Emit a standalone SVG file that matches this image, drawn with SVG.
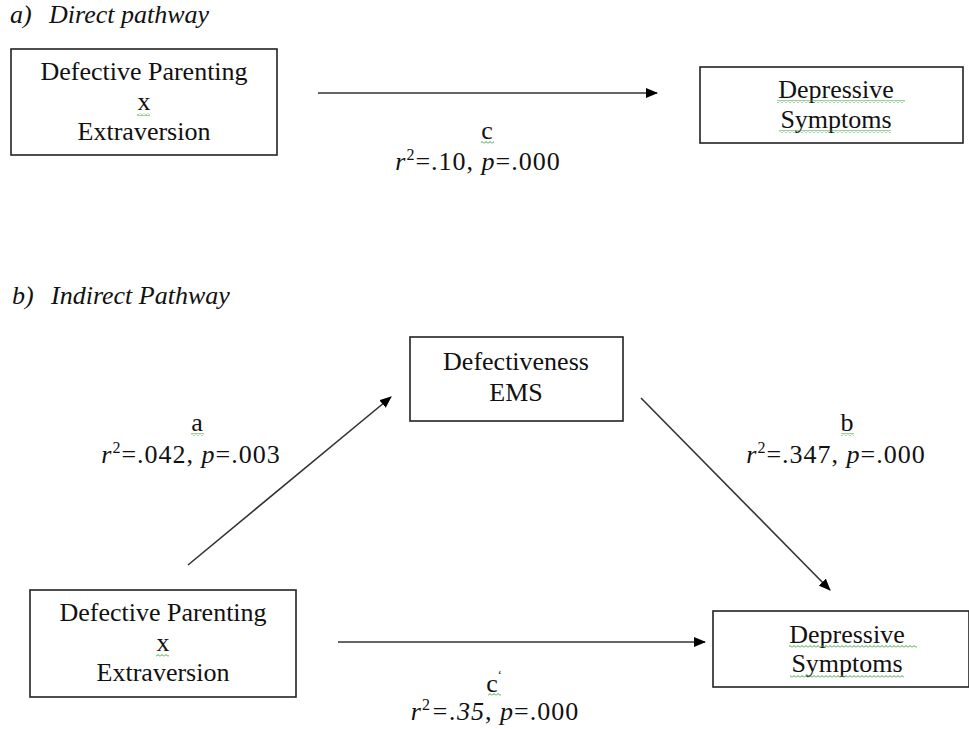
<svg xmlns="http://www.w3.org/2000/svg" width="969" height="729" viewBox="0 0 969 729">
<defs>
<marker id="ah" viewBox="0 0 12 10" refX="11" refY="5" markerWidth="12" markerHeight="10" markerUnits="userSpaceOnUse" orient="auto">
<path d="M0,0 L12,5 L0,10 Z" fill="#000"/>
</marker>
<pattern id="sq" width="4" height="3" patternUnits="userSpaceOnUse">
<path d="M0,2.5 L2,0.5 L4,2.5" stroke="#3fa03f" fill="none" stroke-width="1"/>
</pattern>
<style>
.box{fill:#fff;stroke:#222;stroke-width:1.6}
.t{font-family:"Liberation Serif","Times New Roman",serif;font-size:26px;fill:#111;text-anchor:middle}
.s{letter-spacing:1px}
.h{font-family:"Liberation Serif","Times New Roman",serif;font-size:26px;fill:#111;font-style:italic}
.ln{stroke:#333;stroke-width:1.6;fill:none;marker-end:url(#ah)}
.i{font-style:italic}
.sq{fill:url(#sq)}
</style>
</defs>
<rect width="969" height="729" fill="#fff"/>

<text class="h" x="10" y="23">a)</text>
<text class="h" x="49" y="23">Direct pathway</text>
<text class="h" x="12" y="304">b)</text>
<text class="h" x="51" y="304">Indirect Pathway</text>

<g id="connectors">
<line class="ln" x1="318" y1="93" x2="657" y2="93"/>
<line class="ln" x1="188" y1="565" x2="391" y2="397"/>
<line class="ln" x1="641" y1="398" x2="830" y2="590"/>
<line class="ln" x1="338" y1="642" x2="705" y2="642"/>
</g>

<g id="label-c">
<text class="t" x="487" y="139">c</text>
<rect class="sq" x="481" y="141" width="13" height="3"/>
<text class="t s" x="478" y="170"><tspan class="i">r</tspan><tspan font-size="16" dy="-10">2</tspan><tspan dy="10">=.10, </tspan><tspan class="i">p</tspan>=.000</text>
</g>

<g id="label-a">
<text class="t" x="197" y="431">a</text>
<rect class="sq" x="191" y="433" width="13" height="3"/>
<text class="t s" x="191" y="463"><tspan class="i">r</tspan><tspan font-size="16" dy="-10">2</tspan><tspan dy="10">=.042, </tspan><tspan class="i">p</tspan>=.003</text>
</g>

<g id="label-b">
<text class="t" x="847" y="431">b</text>
<rect class="sq" x="841" y="433" width="13" height="3"/>
<text class="t s" x="836" y="463"><tspan class="i">r</tspan><tspan font-size="16" dy="-10">2</tspan><tspan dy="10">=.347, </tspan><tspan class="i">p</tspan>=.000</text>
</g>

<g id="label-cprime">
<text class="t" x="494" y="692">c<tspan font-size="12" dy="-13">‘</tspan></text>
<rect class="sq" x="488" y="693" width="13" height="3"/>
<text class="t s" x="495" y="720"><tspan class="i">r</tspan><tspan font-size="16" dy="-10">2</tspan><tspan dy="10" class="i">=.35</tspan>, <tspan class="i">p</tspan>=.000</text>
</g>

<g id="node-a-predictor">
<rect class="box" x="11" y="49" width="266" height="106"/>
<text class="t" x="144" y="80">Defective Parenting</text>
<text class="t" x="144" y="110">x</text>
<rect class="sq" x="137" y="113" width="13" height="3"/>
<text class="t" x="144" y="140">Extraversion</text>
</g>

<g id="node-a-outcome">
<rect class="box" x="700" y="67" width="263" height="76"/>
<text class="t" x="836" y="98">Depressive</text>
<rect class="sq" x="777" y="100" width="128" height="3"/>
<text class="t" x="836" y="128">Symptoms</text>
<rect class="sq" x="779" y="130" width="112" height="3"/>
</g>

<g id="node-b-mediator">
<rect class="box" x="410" y="337" width="213" height="84"/>
<text class="t" x="516" y="370">Defectiveness</text>
<text class="t" x="516" y="401">EMS</text>
</g>

<g id="node-b-predictor">
<rect class="box" x="30" y="590" width="266" height="107"/>
<text class="t" x="163" y="621">Defective Parenting</text>
<text class="t" x="163" y="651">x</text>
<rect class="sq" x="156" y="654" width="13" height="3"/>
<text class="t" x="163" y="681">Extraversion</text>
</g>

<g id="node-b-outcome">
<rect class="box" x="713" y="611" width="256" height="76"/>
<text class="t" x="847" y="643">Depressive</text>
<rect class="sq" x="789" y="645" width="128" height="3"/>
<text class="t" x="847" y="672">Symptoms</text>
<rect class="sq" x="790" y="675" width="114" height="3"/>
</g>
</svg>
